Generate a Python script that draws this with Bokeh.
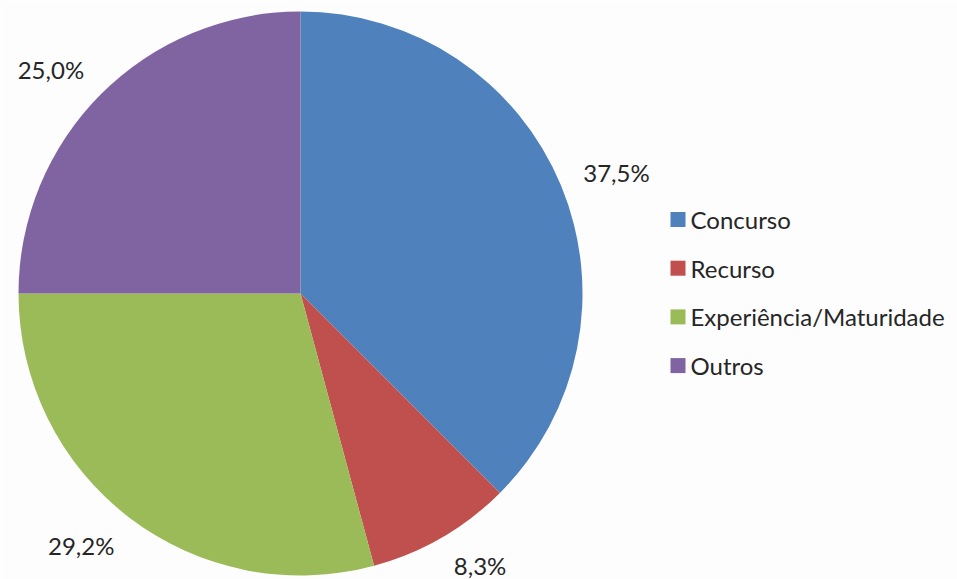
import numpy as np
from bokeh.plotting import figure
from bokeh.models import ColumnDataSource, Range1d
from bokeh.core.properties import value
from bokeh.embed import file_html
from bokeh.resources import INLINE

categories = ["Concurso", "Recurso", "Experiência/Maturidade", "Outros"]
percents = [37.5, 8.3, 29.2, 25.0]
labels = ["37,5%", "8,3%", "29,2%", "25,0%"]
colors = ["#4F81BD", "#C0504D", "#9BBB59", "#8064A2"]

W, H = 957, 579
cx, cy, R = 300, H - 293, 282

frac = np.array(percents) / sum(percents)
cum_end = np.cumsum(frac)
cum_start = cum_end - frac
start = np.pi / 2 - cum_start * 2 * np.pi
end = np.pi / 2 - cum_end * 2 * np.pi
mid = (start + end) / 2
ux, uy = np.cos(mid), np.sin(mid)
rl = R + 24

lx_all = cx + rl * ux
ly_all = np.clip(cy + rl * uy + 11 * uy, 14, H - 14)
right = ux >= 0
src_r = ColumnDataSource(dict(lx=lx_all[right], ly=ly_all[right],
                              lab=[l for l, r in zip(labels, right) if r]))
src_l = ColumnDataSource(dict(lx=lx_all[~right], ly=ly_all[~right],
                              lab=[l for l, r in zip(labels, right) if not r]))
src = ColumnDataSource(dict(cat=categories, start=start, end=end, color=colors))

p = figure(width=W, height=H, output_backend="svg", toolbar_location=None,
           x_range=Range1d(0, W), y_range=Range1d(0, H), min_border=0)
p.axis.visible = False
p.grid.visible = False
p.outline_line_color = None
p.background_fill_color = "#fdfdfd"
p.border_fill_color = "#fdfdfd"

p.wedge(x=cx, y=cy, radius=R, start_angle="start", end_angle="end", direction="clock",
        fill_color="color", line_color=None, source=src)

for s, al in ((src_r, "left"), (src_l, "right")):
    p.text(x="lx", y="ly", text="lab", source=s, text_align=al, text_baseline="middle",
           text_font=value("Lato"), text_font_size="24px", text_color="#262626")

# legend
leg_y = [H - (219 + i * 48.7) for i in range(len(categories))]
leg = ColumnDataSource(dict(y=leg_y, color=colors, cat=categories))
p.rect(x=677.5, y="y", width=15, height=15, fill_color="color", line_color=None, source=leg)
p.text(x=690, y="y", text="cat", source=leg, text_align="left", text_baseline="middle",
       text_font=value("Lato"), text_font_size="24px", text_color="#262626")

open("out.html", "w").write(file_html(p, INLINE))
